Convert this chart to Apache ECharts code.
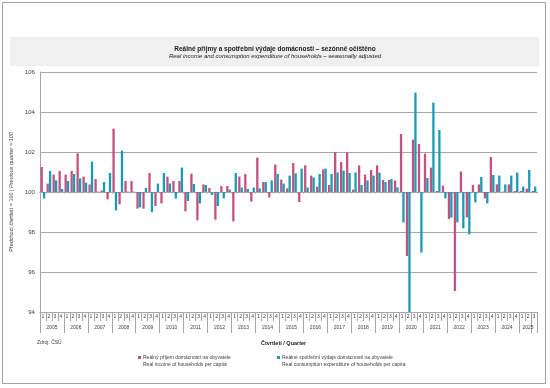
<!DOCTYPE html>
<html><head><meta charset="utf-8">
<script src="https://cdn.jsdelivr.net/npm/echarts@6/dist/echarts.min.js"></script>
<style>html,body{margin:0;padding:0;background:#fff}#c{width:550px;height:388px}</style>
</head><body><div id="c"></div>
<script>
const years = ['2005','2006','2007','2008','2009','2010','2011','2012','2013','2014','2015','2016','2017','2018','2019','2020','2021','2022','2023','2024','2025'];
const quarterLabels = ['1','2','3','4'];
const lastYearQuarters = 3;
const yTicks = [94, 96, 98, 100, 102, 104, 106];

const incomeName = 'Reálný příjem domácností na obyvatele';
const incomeNameEn = 'Real income of households per capita';
const consName = 'Reálné spotřební výdaje domácností na obyvatele';
const consNameEn = 'Real consumption expenditure of households per capita';

const income = [
  101.25, 100.42, 100.87, 101.05,
  100.87, 101.05, 101.93, 100.77,
  100.38, 100.65, 100.07, 99.63,
  103.17, 99.38, 100.55, 100.55,
  99.17, 99.17, 100.95, 99.30,
  99.43, 100.77, 100.55, 100.55,
  99.03, 100.92, 98.58, 100.38,
  100.20, 98.62, 100.30, 100.30,
  98.53, 100.77, 100.90, 99.52,
  101.72, 100.50, 99.73, 101.37,
  100.62, 100.18, 101.45, 99.50,
  101.33, 100.82, 100.27, 101.13,
  100.35, 102.00, 101.50, 101.98,
  100.12, 101.33, 100.87, 101.10,
  101.33, 100.60, 100.60, 100.58,
  102.90, 96.80, 102.62, 102.40,
  101.92, 101.22, 100.05, 100.32,
  98.65, 95.05, 101.02, 98.73,
  100.35, 100.38, 99.68, 101.75,
  100.38, 100.02, 100.38, 100.05,
  100.05, 100.17, 100.05
];
const consumption = [
  99.68, 101.05, 100.58, 100.15,
  100.55, 100.90, 100.68, 100.47,
  101.52, 100.02, 100.50, 100.95,
  99.08, 102.07, 100.02, 100.02,
  99.23, 100.20, 99.00, 100.42,
  100.95, 100.42, 99.67, 101.22,
  99.55, 100.40, 99.43, 100.35,
  99.85, 99.30, 99.68, 100.12,
  100.95, 100.22, 100.15, 100.22,
  100.18, 100.50, 100.58, 100.90,
  100.42, 100.82, 100.93, 101.17,
  100.22, 100.73, 100.90, 101.17,
  100.90, 100.98, 101.07, 100.95,
  100.98, 100.35, 100.58, 100.82,
  100.97, 100.50, 100.65, 100.23,
  98.48, 94.00, 104.97, 96.97,
  100.70, 104.47, 103.10, 99.68,
  98.72, 98.48, 98.18, 97.88,
  99.48, 100.75, 99.43, 100.85,
  100.82, 100.38, 100.82, 100.97,
  100.27, 101.10, 100.27
];

const BASE = 100;
const cats = [];
const catYear = [];
years.forEach((y, yi) => {
  const n = yi === years.length - 1 ? lastYearQuarters : quarterLabels.length;
  for (let q = 0; q < n; q++) { cats.push(quarterLabels[q]); catYear.push(y); }
});
const N = cats.length;

const FONT = '"Liberation Sans", Arial, sans-serif';
const GRID_C = '#a6a6a6';
const TXT = '#404040';
const PINK = '#c4527e';
const TEAL = '#1b9ab5';

const chart = echarts.init(document.getElementById('c'), null, {renderer: 'canvas'});
chart.setOption({
  animation: false,
  textStyle: {fontFamily: FONT},
  title: {
    text: 'Reálné příjmy a spotřební výdaje domácností – sezónně očištěno',
    subtext: 'Real income and consumption expenditure of households – seasonally adjusted',
    left: 'center', top: 41, itemGap: 0,
    textStyle: {fontSize: 6.5, fontWeight: 'bold', color: '#1a1a1a', fontFamily: FONT},
    subtextStyle: {fontSize: 6, fontStyle: 'italic', color: '#1a1a1a', fontFamily: FONT}
  },
  graphic: [
    {type: 'rect', z: -10, shape: {x: 2.5, y: 2.5, width: 543, height: 381}, style: {fill: '#fff', stroke: '#a0a0a0', lineWidth: 1}},
    {type: 'rect', z: -9, shape: {x: 10, y: 37, width: 529, height: 29}, style: {fill: '#f0f0f0'}},
    {type: 'text', left: 37, top: 340, style: {text: 'Zdroj: ČSÚ', font: '5px ' + FONT, fill: TXT}},
    {type: 'text', left: 261, top: 340, style: {text: 'Čtvrtletí / Quarter', font: 'bold 5.5px ' + FONT, fill: '#1a1a1a'}},
    {type: 'text', left: 143, top: 362.5, style: {text: incomeNameEn, font: '5px ' + FONT, fill: TXT}},
    {type: 'text', left: 282, top: 362.5, style: {text: consNameEn, font: '5px ' + FONT, fill: TXT}}
  ],
  legend: [
    {data: [incomeName], left: 138, top: 355, itemWidth: 3, itemHeight: 3, itemGap: 2, padding: 0,
     icon: 'rect', textStyle: {fontSize: 5, color: TXT, padding: [0, 0, 0, -3]}},
    {data: [consName], left: 277, top: 355, itemWidth: 3, itemHeight: 3, itemGap: 2, padding: 0,
     icon: 'rect', textStyle: {fontSize: 5, color: TXT, padding: [0, 0, 0, -3]}}
  ],
  grid: {left: 36, right: 13, top: 72, bottom: 76, containLabel: false},
  xAxis: [
    {
      type: 'category', data: cats, position: 'bottom', boundaryGap: true,
      axisLine: {onZero: false, lineStyle: {color: GRID_C, width: 1}},
      axisTick: {show: true, interval: 0, length: 9, lineStyle: {color: GRID_C}},
      axisLabel: {interval: 0, fontSize: 5, color: TXT, margin: 2.5},
      splitLine: {show: false}
    },
    {
      type: 'category', data: cats, position: 'bottom', offset: 9, boundaryGap: true,
      axisLine: {onZero: false, show: false},
      axisTick: {show: true, length: 12, lineStyle: {color: GRID_C},
        interval: (i) => i % 4 === 0 || i === N - 1},
      axisLabel: {
        interval: 0, fontSize: 5, color: TXT, margin: 4,
        formatter: (v, i) => {
          if (i % 4 !== 1) return '';
          const y = catYear[i];
          const full = catYear.filter(c => c === y).length === 4;
          return full ? '{s|' + y + '}' : '{c|' + y + '}';
        },
        rich: {s: {fontSize: 5, color: TXT, padding: [0, 0, 0, 6]}, c: {fontSize: 5, color: TXT}}
      },
      splitLine: {show: false}
    },
    {
      type: 'category', data: cats, position: 'bottom', boundaryGap: true,
      axisLine: {onZero: true, lineStyle: {color: GRID_C, width: 1}},
      axisTick: {show: true, interval: 0, length: 1.5, lineStyle: {color: GRID_C}},
      axisLabel: {show: false},
      splitLine: {show: false}
    }
  ],
  yAxis: {
    type: 'value', min: yTicks[0] - BASE, max: yTicks[yTicks.length - 1] - BASE, interval: yTicks[1] - yTicks[0],
    axisLine: {show: true, lineStyle: {color: GRID_C}},
    axisTick: {show: false},
    axisLabel: {fontSize: 6, color: TXT, margin: 5, formatter: (v) => String(Math.round(v + BASE))},
    splitLine: {lineStyle: {color: GRID_C, width: 1}},
    name: '{a|Předchozí čtvrtletí = 100 | }{b|Previous quarter = 100}',
    nameLocation: 'middle', nameGap: 19, nameRotate: 90,
    nameTextStyle: {rich: {a: {fontSize: 5.5, color: TXT}, b: {fontSize: 5.5, color: TXT, fontStyle: 'italic'}}}
  },
  series: [
    {name: incomeName, type: 'bar', data: income.map(v => +(v - BASE).toFixed(2)), barWidth: 2.3, barGap: '5%',
     itemStyle: {color: PINK}, xAxisIndex: 0},
    {name: consName, type: 'bar', data: consumption.map(v => +(v - BASE).toFixed(2)), barWidth: 2.3, barGap: '5%',
     itemStyle: {color: TEAL}, xAxisIndex: 0}
  ]
});
</script></body></html>
